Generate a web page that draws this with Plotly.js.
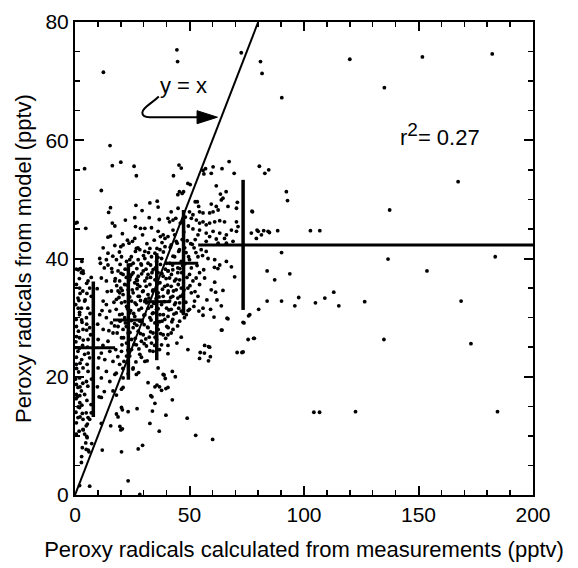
<!DOCTYPE html>
<html>
<head>
<meta charset="utf-8">
<script src="https://cdn.plot.ly/plotly-3.0.1.min.js"></script>
<style>html,body{margin:0;padding:0;background:#fff;}#chart{width:578px;height:568px;}</style>
</head>
<body>
<div id="chart"></div>
<script>
const sparseTop = [[12.4,71.5],[44.5,75.3],[44.8,73.3],[72.6,74.8],[15.3,59.1],[0.3,46.0],[81.0,73.3],[81.7,71.3],[120.0,73.7],[151.7,74.1],[182.2,74.6],[135.1,68.9],[90.3,67.2]];
const sparseRight = [[80.5,55.6],[82.9,54.4],[84.6,55.0],[92.3,51.3],[92.8,49.8],[167.3,53.0],[137.4,48.2],[77.3,48.0],[79.5,44.8],[82.4,44.7],[84.3,44.6],[84.9,44.4],[88.5,44.7],[102.8,44.7],[106.9,44.7],[79.2,43.4],[81.4,44.0],[90.2,41.0],[136.7,39.9],[183.5,40.3],[83.9,37.9],[87.2,36.4],[93.8,37.4],[153.7,37.9],[80.2,31.4],[83.9,32.8],[90.2,32.8],[96.0,32.0],[97.7,33.4],[105.0,32.5],[109.1,33.3],[113.0,34.3],[115.2,32.0],[126.5,32.7],[168.6,32.8],[78.3,26.5],[134.9,26.3],[172.9,25.6],[104.3,14.0],[106.8,14.0],[122.5,14.1],[184.5,14.1]];
const upperLeft = [[4.2,55.2],[16.3,55.7],[20.0,56.3],[25.8,55.6],[26.8,54.0],[11.5,51.5],[26.6,49.0],[32.7,49.4],[35.9,49.7],[36.3,48.7],[15.5,48.6],[14.7,47.8],[29.3,48.1],[26.1,46.9],[32.4,46.9],[36.8,46.6],[22.0,46.5],[16.3,46.0],[17.4,45.5],[4.7,45.1],[0.9,46.1],[26.4,45.4],[28.6,45.1],[30.5,45.1],[33.4,45.2],[20.7,44.2],[14.4,43.6],[15.5,43.8],[29.5,44.0],[36.3,44.6],[37.3,43.7],[38.5,44.0],[39.3,43.4],[22.9,43.1],[25.1,42.9],[26.1,43.4],[34.6,43.1],[17.4,42.2],[20.0,42.0],[21.0,42.3],[12.3,41.8],[26.8,41.7],[28.3,41.5],[30.5,41.2],[32.7,41.7],[34.9,40.9],[37.1,41.5],[39.3,42.0],[14.4,40.9],[10.8,40.0],[11.1,39.2],[18.1,39.8],[20.3,40.3],[22.5,39.5],[23.9,39.8],[25.4,39.2],[27.6,39.8],[29.0,38.9],[30.5,40.0],[31.9,39.2],[33.4,40.3],[35.6,39.5],[37.8,40.0],[40.0,39.2],[13.7,39.8],[14.4,38.9],[2.3,38.3],[0.6,38.2]];
const upperMid = [[45.4,55.8],[46.4,55.3],[43.0,54.0],[57.0,55.2],[59.5,54.4],[60.3,55.5],[64.2,55.2],[67.3,56.4],[69.5,54.4],[55.9,54.9],[56.3,54.3],[49.3,52.7],[50.3,52.5],[61.7,52.3],[45.6,51.3],[46.8,51.0],[44.9,50.8],[47.4,51.3],[63.5,50.9],[53.4,49.6],[59.5,49.2],[61.7,48.8],[63.9,49.9],[62.5,48.2],[60.3,47.9],[58.8,47.7],[55.9,47.7],[54.4,47.9],[70.9,49.5],[70.5,48.5],[66.8,48.8],[77.5,47.9],[42.0,47.9],[40.6,46.8],[42.8,46.5],[50.0,47.9],[51.5,47.4],[50.8,46.8],[53.0,46.5],[54.4,46.0],[55.9,46.2],[57.3,45.7],[58.8,46.0],[61.0,46.2],[63.2,46.4],[65.3,46.2],[70.5,46.2],[71.2,45.4],[70.5,44.6],[68.3,44.8],[80.0,44.6],[77.0,44.3],[54.4,44.8],[57.3,44.3],[60.3,44.6],[63.2,44.3],[66.1,44.0],[53.7,44.0],[58.8,43.7],[61.7,43.3],[65.3,43.4],[57.3,42.9],[62.5,42.6],[66.1,42.6],[69.0,42.9],[55.1,41.5],[57.3,41.2],[53.7,40.3],[58.1,40.0],[61.0,39.8],[63.2,38.9],[66.1,39.5],[68.3,38.6],[60.9,38.5],[62.4,38.3],[52.5,49.6],[54.0,48.8],[64.6,50.2],[66.0,51.3],[41.3,46.2],[42.8,44.8],[43.5,44.0],[40.6,43.7],[44.2,42.9],[42.0,42.3],[45.6,41.5],[43.5,40.3],[46.4,39.5],[41.3,39.2],[44.9,38.4],[47.5,44.5],[49.0,43.0],[46.0,46.0],[48.5,41.0],[50.5,42.5],[51.5,45.0],[47.0,38.8],[50.0,39.8],[52.0,41.8],[49.5,45.5],[44.0,46.8],[46.8,43.2],[48.2,47.0],[45.0,48.5],[52.5,43.2]];
const centerLeft = [[2.8,37.6],[5.7,36.2],[2.0,35.0],[6.4,35.0],[1.3,33.3],[4.2,32.8],[7.1,33.6],[2.8,31.6],[3.5,37.9],[11.5,36.7],[13.7,36.2],[17.4,36.2],[15.9,34.5],[12.3,32.8],[13.7,32.2],[18.1,33.1],[19.5,34.2],[15.2,31.1],[2.0,30.5],[5.0,30.0],[0.6,28.5],[3.5,28.0],[6.4,28.3],[2.0,26.6],[5.7,26.3],[1.3,24.3],[4.2,23.8],[6.4,23.2],[0.6,22.1],[3.5,21.5],[5.7,20.9],[2.0,19.8],[5.0,19.2],[0.6,18.7],[10.8,30.5],[13.7,30.0],[15.9,29.1],[12.3,28.0],[16.6,27.4],[10.1,26.3],[14.4,26.0],[11.5,24.0],[15.2,24.3],[13.0,22.9],[16.6,22.6],[10.1,21.5],[13.7,20.9],[11.5,19.8],[15.2,19.2],[17.4,20.4],[20.3,24.3],[22.5,23.5],[24.7,24.6],[19.5,22.1],[25.4,21.5],[28.3,23.8],[30.5,22.6],[21.0,19.8],[26.8,20.4],[34.1,24.3],[38.5,20.4],[31.9,19.0],[36.3,21.5],[1.4,38.1],[3.6,37.5],[5.1,35.8],[2.2,34.1],[4.4,33.0],[1.4,31.6],[6.6,30.7],[2.9,29.6],[5.1,27.9],[0.7,26.8],[3.6,26.2],[5.8,24.0],[2.2,22.3],[0.7,21.4]];
const leftEdge = [[0.4,14.0],[0.5,16.3],[0.3,19.6],[0.6,23.3],[0.4,25.9],[0.5,29.7],[0.3,32.2],[0.6,35.6],[1.8,10.8],[2.1,15.6],[1.6,20.8],[1.9,24.8],[1.5,27.7],[2.0,30.9],[1.7,32.9],[1.9,36.6],[3.2,8.0],[3.0,15.2],[3.4,18.9],[2.9,22.9],[3.3,25.3],[3.1,29.2],[3.4,34.5],[3.0,39.5],[5.4,12.0],[5.2,16.0],[5.6,18.4],[5.3,22.1],[5.5,25.0],[5.1,28.9],[5.6,31.6],[5.2,34.1],[7.0,15.3],[7.2,19.6],[6.8,27.1],[7.1,36.8],[9.8,18.3],[12.8,17.5],[10.4,23.2],[12.2,25.3],[14.8,27.8],[9.9,28.9],[11.8,31.2],[14.1,34.4],[9.7,34.9],[12.8,38.4],[16.2,37.7]];
const denseCore = [[18.8,37.9],[21.0,37.3],[23.2,38.1],[25.4,37.6],[27.6,37.0],[29.8,37.9],[31.9,37.3],[34.1,38.1],[36.3,37.6],[38.5,37.0],[40.7,37.9],[19.5,36.2],[21.7,35.6],[23.9,36.4],[26.1,35.9],[28.3,35.3],[30.5,36.2],[32.7,35.6],[34.9,36.4],[37.1,35.9],[39.2,35.3],[18.8,34.5],[21.0,33.9],[23.2,34.7],[25.4,34.2],[27.6,33.6],[29.8,34.5],[31.9,33.9],[34.1,34.7],[36.3,34.2],[38.5,33.6],[40.7,34.5],[20.3,32.5],[22.5,31.9],[24.7,32.8],[26.8,32.2],[29.0,31.6],[31.2,32.5],[33.4,31.9],[35.6,31.4],[37.8,32.2],[40.0,31.6],[19.5,30.5],[21.7,30.0],[23.9,30.8],[26.1,30.2],[28.3,29.4],[30.5,30.5],[32.7,30.0],[34.9,29.1],[37.1,30.5],[39.2,29.7],[18.8,28.5],[21.0,28.0],[23.2,27.4],[25.4,28.3],[27.6,27.7],[29.8,27.1],[31.9,28.3],[34.1,27.4],[36.3,28.0],[38.5,27.1],[40.7,28.3],[20.3,26.6],[22.5,25.7],[24.7,26.3],[26.8,25.4],[29.0,26.0],[31.2,25.2],[33.4,25.7],[35.6,26.3],[37.8,25.4],[24.2,36.9],[27.1,34.9],[30.9,33.1],[33.0,36.8],[35.4,33.2],[22.0,29.1],[26.0,29.0],[30.2,28.8],[33.8,30.7],[28.6,32.9],[20.0,35.0],[36.9,29.3],[24.3,31.2],[32.4,26.7],[27.2,36.3]];
const denseCore2 = [[17.6,36.6],[20.1,37.5],[22.4,36.8],[24.8,37.3],[26.9,36.5],[29.1,37.4],[31.4,36.7],[33.6,37.6],[35.5,36.4],[37.9,37.5],[39.8,36.6],[42.1,37.3],[44.1,36.5],[46.6,37.6],[48.9,36.8],[18.2,35.4],[20.6,34.6],[22.8,35.5],[25.0,34.7],[27.3,35.6],[29.5,34.4],[31.1,35.3],[33.9,34.5],[36.0,35.7],[38.2,34.8],[40.4,35.5],[43.0,34.5],[45.1,35.6],[47.6,34.7],[50.2,35.4],[52.4,34.4],[17.0,32.6],[19.2,33.4],[21.8,32.7],[23.9,33.5],[26.2,32.5],[28.1,33.6],[30.6,32.8],[32.3,33.3],[34.4,32.4],[36.7,33.5],[39.0,32.7],[41.8,33.4],[43.9,32.5],[46.0,33.6],[48.4,32.6],[18.0,31.4],[20.6,30.6],[22.9,31.5],[25.6,30.7],[27.9,31.3],[30.1,30.4],[32.0,31.6],[34.2,30.8],[36.3,31.5],[38.6,30.5],[41.0,31.3],[43.2,30.6],[45.3,31.6],[47.3,30.7],[49.4,31.2],[17.3,28.6],[19.7,29.4],[22.4,28.5],[24.6,29.5],[27.0,28.7],[29.3,29.3],[31.7,28.4],[33.2,29.6],[35.9,28.8],[38.0,29.4],[40.1,28.5],[42.3,29.3],[44.8,28.6],[18.4,27.4],[21.2,26.6],[24.0,27.5],[26.3,26.5],[28.6,27.3],[30.9,26.4],[33.0,27.6],[35.0,26.7],[37.4,27.3],[39.6,26.5],[42.0,27.4],[17.8,24.6],[20.5,25.4],[23.1,24.5],[25.9,25.5],[27.9,24.7],[30.2,25.6],[32.7,24.4],[34.8,25.3],[36.9,24.6],[18.7,23.4],[21.4,22.6],[23.9,23.5],[26.6,22.5],[29.0,23.3],[31.5,22.7],[18.0,20.6],[20.9,21.4],[23.2,20.5],[25.3,21.3],[27.8,20.7],[23.6,42.6],[27.5,41.8],[31.4,42.5],[35.8,41.7],[38.0,42.7],[41.6,41.9],[44.6,42.6],[47.9,41.8],[51.2,42.4],[16.5,40.4],[19.4,41.1],[24.6,40.3],[26.4,41.2],[29.9,40.5],[32.1,41.0],[36.2,40.2],[38.6,41.1],[42.8,40.4],[45.3,41.2],[49.6,40.3],[52.8,41.0],[55.7,40.5],[16.0,38.3],[19.7,39.0],[21.9,38.2],[24.4,38.9],[27.0,38.3],[28.8,39.1],[31.0,38.2],[33.0,38.9],[35.1,38.4],[37.3,39.0],[39.5,38.2],[42.6,38.9],[45.8,38.3],[48.0,39.1],[50.8,38.4],[53.3,38.8],[56.2,38.1]];
const centerRight = [[69.7,36.9],[61.0,36.0],[59.5,34.7],[61.4,34.3],[64.6,34.6],[57.6,33.0],[62.0,33.0],[63.9,32.0],[59.2,31.4],[60.7,30.1],[55.9,30.4],[54.1,31.1],[51.9,31.9],[66.8,29.8],[75.8,30.3],[73.8,29.1],[63.9,27.9],[75.6,26.3],[46.4,26.7],[44.5,25.7],[40.6,25.3],[49.3,24.6],[56.6,25.3],[58.8,25.0],[54.7,24.1],[70.8,24.1],[73.4,24.2],[58.3,22.7],[40.6,23.9],[42.5,20.9],[40.6,27.1],[42.8,28.0],[40.6,37.9],[42.7,38.1],[44.9,37.6],[41.3,36.7],[43.5,36.2],[45.7,36.4],[42.0,35.3],[44.2,34.7],[46.4,35.0],[40.6,34.2],[42.7,33.6],[44.9,33.3],[47.1,33.9],[41.3,32.8],[43.5,32.2],[45.7,32.5],[42.0,31.4],[44.2,30.8],[46.4,31.1],[48.6,30.5],[40.6,30.2],[42.7,29.7],[45.7,29.4],[47.8,30.0],[50.0,37.3],[51.5,36.2],[49.3,35.0],[52.9,36.7],[54.4,35.6],[50.8,34.2],[53.7,33.6],[52.2,32.8],[55.9,31.6],[50.0,31.4],[54.4,37.6],[56.6,36.7],[64.2,27.9],[66.4,29.9],[72.9,24.1],[78.0,26.5],[73.4,29.2],[76.3,30.5],[58.3,25.1],[56.5,24.0],[59.1,23.4],[54.4,23.1],[43.8,20.0],[38.9,20.3]];
const lowerRegion = [[20.3,17.9],[21.0,18.2],[34.9,18.3],[37.8,17.7],[33.1,16.8],[34.9,15.5],[33.8,14.2],[27.1,14.6],[23.2,14.1],[20.7,14.4],[20.3,14.8],[18.1,13.7],[18.8,13.2],[39.7,13.5],[32.7,12.1],[36.8,10.8],[15.6,11.7],[19.6,11.6],[20.7,11.2],[20.0,11.0],[11.5,12.1],[6.4,12.8],[2.0,14.8],[3.2,13.8],[1.3,13.1],[0.6,12.2],[0.6,10.3],[4.2,10.3],[5.3,9.7],[4.7,8.8],[4.9,7.7],[6.1,7.3],[11.9,7.6],[20.3,7.3],[27.6,7.8],[29.5,8.4],[2.8,5.5],[6.4,1.5],[2.0,1.6],[23.2,2.4],[28.3,0.1],[4.9,11.7],[3.5,11.1],[39.7,18.0],[1.3,18.2],[2.8,17.6],[0.6,17.0],[2.1,16.8],[4.2,17.0],[11.5,16.5],[10.5,16.6],[4.9,13.9],[5.7,13.1],[3.5,12.8],[16.6,17.6],[18.1,16.9],[7.1,13.9],[40.6,18.2],[42.5,16.1],[49.0,13.0],[52.7,10.1],[60.1,9.4],[33.6,16.6],[35.8,18.6],[36.9,18.3],[39.4,19.7],[2.2,18.3],[1.0,16.6],[1.4,14.9],[2.2,13.2],[3.6,11.0],[5.1,9.9],[2.9,6.5],[5.8,7.6],[7.3,8.7]];

// ---- binned means with spreads ----
const binX = [8.0, 23.3, 35.7, 47.4, 73.4];
const binY = [24.9, 29.6, 32.7, 39.2, 42.3];
const binXLow = [0, 16.6, 29.8, 41.6, 53.8];
const binXHigh = [17.5, 29.8, 41.6, 53.8, 200];
const binYLow = [13.2, 19.5, 22.8, 30.8, 31.3];
const binYHigh = [36.1, 39.2, 40.9, 48.2, 53.3];

// ---- 1:1 reference line ----
const oneToOne = [0, 80];

const allPts = [].concat(sparseTop, sparseRight, upperLeft, upperMid, centerLeft, leftEdge, denseCore, denseCore2, centerRight, lowerRegion);

const FONT = 'Liberation Sans, Arial, Helvetica, sans-serif';

const traces = [
  {
    type: 'scatter', mode: 'markers',
    x: allPts.map(p => p[0]), y: allPts.map(p => p[1]),
    marker: {size: 3.8, color: '#000'},
    cliponaxis: true, hoverinfo: 'skip'
  },
  {
    type: 'scatter', mode: 'lines',
    x: oneToOne, y: oneToOne,
    line: {color: '#000', width: 2},
    hoverinfo: 'skip'
  },
  {
    type: 'scatter', mode: 'markers',
    x: binX, y: binY,
    marker: {size: 1, color: 'rgba(0,0,0,0)'},
    error_x: {type: 'data', symmetric: false,
      array: binX.map((v, i) => binXHigh[i] - v),
      arrayminus: binX.map((v, i) => v - binXLow[i]),
      color: '#000', thickness: 3, width: 0},
    error_y: {type: 'data', symmetric: false,
      array: binY.map((v, i) => binYHigh[i] - v),
      arrayminus: binY.map((v, i) => v - binYLow[i]),
      color: '#000', thickness: 3.5, width: 0},
    hoverinfo: 'skip'
  }
];

const axisCommon = {
  showgrid: false, zeroline: false, showline: true, linecolor: '#000', linewidth: 2,
  mirror: 'ticks', ticks: 'inside', ticklen: 9, tickwidth: 2, tickcolor: '#000',
  tickfont: {family: FONT, size: 21, color: '#000'}
};

const layout = {
  width: 578, height: 568,
  margin: {l: 75, r: 45, t: 22, b: 73},
  paper_bgcolor: '#fff', plot_bgcolor: '#fff',
  showlegend: false,
  xaxis: Object.assign({}, axisCommon, {
    range: [0, 200], tickvals: [0, 50, 100, 150, 200],
    minor: {dtick: 10, ticks: 'inside', ticklen: 5, tickwidth: 1.5, tickcolor: '#000', showgrid: false},
    title: {text: 'Peroxy radicals calculated from measurements (pptv)', font: {family: FONT, size: 22, color: '#000'}, standoff: 16}
  }),
  yaxis: Object.assign({}, axisCommon, {
    range: [0, 80], tickvals: [0, 20, 40, 60, 80],
    minor: {dtick: 5, ticks: 'inside', ticklen: 5, tickwidth: 1.5, tickcolor: '#000', showgrid: false},
    title: {text: 'Peroxy radicals from model (pptv)', font: {family: FONT, size: 22, color: '#000'}, standoff: 8}
  }),
  shapes: [
    {type: 'path', xref: 'x', yref: 'y',
     path: 'M 36.6,67.4 C 33.5,66.2 29.5,65.6 29.4,64.7 C 29.4,64.1 30.5,63.9 32.5,63.9 L 54,63.9',
     line: {color: '#000', width: 2}},
    {type: 'path', xref: 'x', yref: 'y',
     path: 'M 53.3,62.8 L 62.2,63.9 L 53.3,65.0 Z',
     fillcolor: '#000', line: {color: '#000', width: 1}}
  ],
  annotations: [
    {x: 47.3, y: 69.3, xref: 'x', yref: 'y', text: 'y = x', showarrow: false,
     font: {family: FONT, size: 22, color: '#000'}},
    {x: 159.5, y: 61.0, xref: 'x', yref: 'y', text: 'r<sup><span style="font-size:19px">2</span></sup>= 0.27', showarrow: false,
     font: {family: FONT, size: 22, color: '#000'}}
  ]
};

Plotly.newPlot('chart', traces, layout, {displayModeBar: false, staticPlot: true});
</script>
</body>
</html>
